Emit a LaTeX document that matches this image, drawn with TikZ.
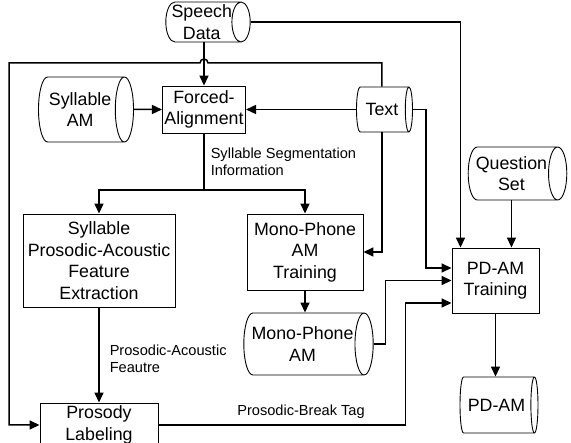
\documentclass[tikz,border=0pt]{standalone}
\usepackage{fontspec}
\setmainfont{Liberation Sans}
\usetikzlibrary{shapes.geometric,arrows.meta}

\begin{document}
\begin{tikzpicture}[x=1pt,y=-1pt,
  line width=1.5pt,
  font=\fontsize{17.8}{21.5}\selectfont,
  box/.style={draw,line width=0.9pt,rectangle,align=center,inner sep=2pt},
  store/.style={draw,line width=0.9pt,cylinder,shape aspect=0.5,anchor=shape center,align=center,inner sep=1pt},
  tag/.style={font=\fontsize{14.6}{17}\selectfont,align=left,inner sep=0pt},
  arr/.style={-{Triangle[length=10pt,width=9pt]}}]
\useasboundingbox (0,0) rectangle (571,443);
%\draw[help lines,step=50] (0,0) grid (571,443);

% data stores (cylinder: height runs along the axis, caps come on top)
\node[store,minimum height=74pt,minimum width=40pt,inner xsep=-0.5pt] (speech) at (208,22) {Speech\\Data};
\node[store,minimum height=95pt,minimum width=65pt] (sylam) at (86,109.5) {Syllable\\AM};
\node[store,minimum height=56pt,minimum width=45pt] (text) at (384.5,109.5) {Text};
\node[store,minimum height=98pt,minimum width=53pt] (question) at (517.5,173.5) {Question\\Set};
\node[store,minimum height=117pt,minimum width=62pt] (mpam) at (308.5,344) {Mono-Phone\\AM};
\node[store,minimum height=78pt,minimum width=56pt] (pdam) at (499,405) {PD-AM};

% processing steps
\node[box,minimum width=83pt,minimum height=47pt] (fa) at (204,109.5) {Forced-\\Alignment};
\node[box,minimum width=152pt,minimum height=93pt] (spafe) at (99,260.5) {Syllable\\Prosodic-Acoustic\\Feature\\Extraction};
\node[box,minimum width=116pt,minimum height=76pt] (mpt) at (305,252) {Mono-Phone\\AM\\Training};
\node[box,minimum width=87pt,minimum height=65pt] (pdt) at (495.5,280.5) {PD-AM\\Training};
\node[box,minimum width=118pt,minimum height=44pt] (prosody) at (99,425) {Prosody\\Labeling};

% inputs
\draw[arr] (fa.north |- speech.south) -- (fa.north);
\draw[arr] (speech.east) -| ([xshift=-35pt]pdt.north);
\draw[arr] (question.south) -- (question.south |- pdt.north);
\draw[arr] (sylam.east) -- (fa.west);
\draw[arr] (text.west) -- (fa.east);
\draw[arr] (text.east) -- ++(13,0) |- ([yshift=12.5pt]pdt.west);
\draw[arr] (text.south) |- (mpt.east);
% text back to labeling, hop over speech line
\draw[arr] (text.north) |- (208,63) arc (0:180:4pt) -- (9,63) |- (prosody.west);

% segmentation split
\coordinate (seg) at (204,190);
\draw (fa.south) -- (seg);
\draw[arr] (seg) -| (spafe.north);
\draw[arr] (seg) -| (mpt.north);
\node[tag,anchor=west] (segtag) at (210,161.5) {Syllable Segmentation\\Information};

\draw[arr] (mpt.south) -- (mpt.south |- mpam.north);
\draw[arr] (mpam.east) -- ++(12,0) |- (pdt.west);
\draw[arr] (spafe.south) -- (prosody.north);
\node[tag,anchor=west] (featag) at (109,358.5) {Prosodic-Acoustic\\Feautre};
\draw[arr] (prosody.east) -- ++(247,0) |- ([yshift=-22.5pt]pdt.west);
\node[tag] (breaktag) at (301,412) {Prosodic-Break Tag};
\draw[arr] (pdt.south) -- (pdt.south |- pdam.north);
\end{tikzpicture}
\end{document}
